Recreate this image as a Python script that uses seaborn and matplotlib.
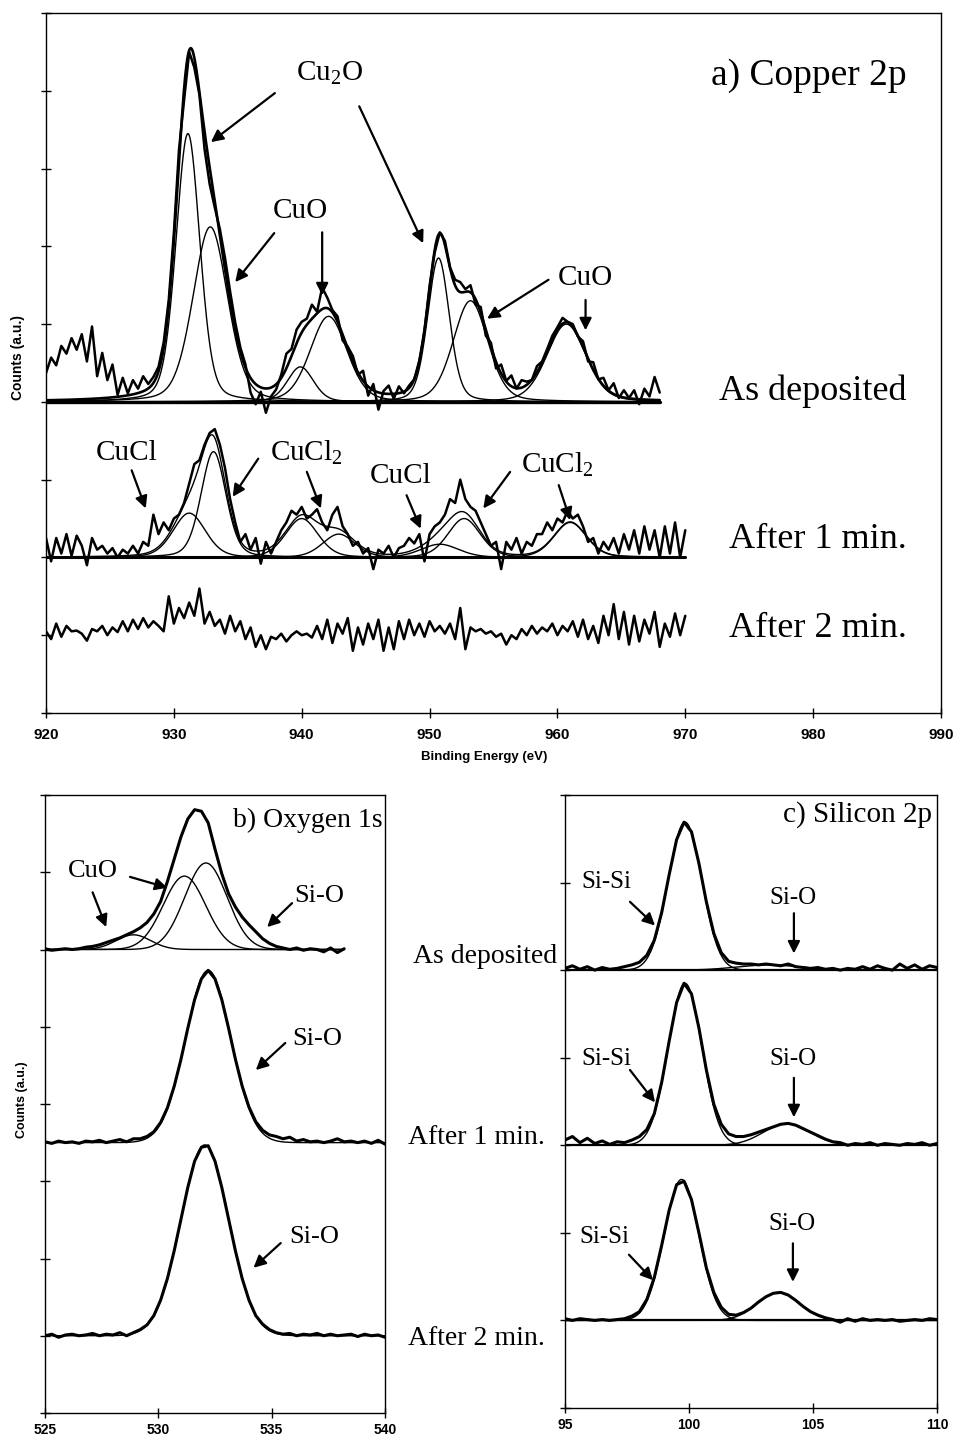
import numpy as np
import matplotlib
matplotlib.use("Agg")
import matplotlib.pyplot as plt
import seaborn as sns

# ---------------- Cu 2p spectra (counts above each trace's own baseline) ----------------
CU_START, CU_STEP = 920.0, 0.4
cu_as_deposited = [
    .37, .57, .47, .72, .62, .82, .67, .87, .52, .97,
    .33, .63, .28, .48, .09, .31, .11, .28, .17, .33,
    .23, .32, .45, .76, 1.31, 2.17, 3.24, 3.88, 4.50, 4.30,
    3.95, 3.25, 2.80, 2.50, 2.22, 1.85, 1.42, 1.02, .70, .48,
    .12, -.03, .13, -.14, .07, .16, .35, .62, .68, .93,
    1.03, 1.07, 1.25, 1.16, 1.47, 1.34, 1.18, 1.1, .79, .71,
    .59, .35, .40, .08, .23, -.1, .14, .21, .04, .2,
    .11, .21, .29, .53, .91, 1.49, 1.92, 2.18, 2.07, 1.73,
    1.57, 1.54, 1.45, 1.5, 1.25, 1.22, .85, .76, .43, .48,
    .27, .34, .17, .28, .26, .28, .46, .52, .68, .85,
    .96, 1.08, 1.03, 1.0, .84, .78, .52, .51, .29, .31,
    .15, .24, .05, .15, .05, .15, -.03, .17, .07, .32,
    .12]
cu_after_1min = [
    .25, -.05, .25, .05, .3, .02, .28, .15, -.1, .25,
    .1, .15, .05, .12, .0, .1, .05, .15, .05, .2,
    .15, .55, .3, .45, .35, .5, .55, .7, .95, 1.2,
    1.25, 1.45, 1.6, 1.65, 1.45, 1.15, .75, .45, .2, .3,
    .1, .25, -.08, .2, .05, .2, .35, .45, .6, .55,
    .65, .5, .55, .62, .45, .35, .55, .65, .4, .3,
    .15, .2, .05, .12, -.15, .1, .05, .15, .0, .12,
    .15, .25, .18, .3, -.05, .3, .4, .45, .55, .75,
    .7, 1.0, .75, .65, .6, .45, .3, .15, .2, -.15,
    .2, .1, .25, .05, .2, .15, .3, .3, .45, .35,
    .5, .45, .6, .5, .55, .4, .2, .25, .05, .2,
    .1, .25, .05, .3, .1, .35, .05, .4, .1, .35,
    .0, .4, .05, .45, .0, .35]
cu_after_2min = [
    .05, -.05, .15, -.02, .12, .05, .06, .02, -.07, .08,
    .05, .12, .0, .1, .04, .18, .05, .2, .08, .22,
    .1, .18, .12, .05, .5, .15, .35, .22, .42, .25,
    .6, .15, .3, .12, .2, .02, .25, .05, .18, -.05,
    .1, -.15, .0, -.18, -.02, -.05, .02, -.08, .0, .05,
    .0, .02, -.03, .12, -.05, .2, -.1, .15, .02, .22,
    -.2, .1, -.12, .15, -.05, .2, -.2, .1, -.18, .18,
    -.05, .2, .0, .15, -.02, .18, .05, .12, .02, .15,
    -.05, .35, -.18, .1, .05, .08, .02, .05, -.02, .02,
    -.12, .0, -.05, .08, .0, .12, .02, .1, .05, .15,
    .0, .12, .05, .18, -.02, .2, -.05, .12, -.1, .25,
    .0, .4, -.05, .3, -.12, .25, -.08, .2, .02, .3,
    -.15, .15, -.02, .28, .0, .25]

# Cu 2p curve-fit components: centre (eV), height, FWHM (eV)
cu_asdep_centre = [931.1, 932.85, 939.9, 942.1, 950.7, 953.2, 960.7]
cu_asdep_height = [3.45, 2.25, 0.45, 1.1, 1.85, 1.3, 1.0]
cu_asdep_fwhm = [2.2, 3.2, 2.4, 3.4, 2.0, 3.2, 3.6]
cu_1min_centre = [931.2, 933.1, 940.0, 942.9, 950.8, 952.7, 961.0]
cu_1min_height = [0.57, 1.36, 0.50, 0.30, 0.17, 0.50, 0.45]
cu_1min_fwhm = [3.0, 2.3, 3.0, 3.0, 3.5, 3.0, 3.0]

# ---------------- O 1s spectra ----------------
O_START, O_STEP = 525.0, 0.3
o_as_deposited = [
    .01, -.01, .0, .01, .0, .01, .03, .04, .06, .09,
    .12, .15, .19, .23, .28, .35, .46, .62, .88, 1.17,
    1.46, 1.69, 1.81, 1.79, 1.64, 1.30, .98, .72, .55, .42,
    .32, .23, .14, .08, .04, .02, .0, .02, -.01, .01,
    .0, -.03, .02, -.04, .01]
o_after_1min = [
    .01, -.01, .02, .0, .01, -.01, .02, .01, .03, .0,
    .02, .04, .01, .05, .05, .08, .14, .26, .45, .73,
    1.08, 1.48, 1.85, 2.12, 2.23, 2.12, 1.85, 1.48, 1.08, .73,
    .46, .27, .16, .10, .08, .05, .07, .02, .04, .01,
    .02, .0, .02, .05, .01, .02, .0, .02, -.01, .03,
    -.02]
o_after_2min = [
    .0, .02, -.02, .01, .02, .0, .01, .03, .0, .02,
    .01, .04, .0, .04, .08, .14, .26, .46, .74, 1.10,
    1.51, 1.92, 2.26, 2.44, 2.46, 2.26, 1.92, 1.51, 1.10, .74,
    .46, .26, .15, .08, .04, .02, .03, .0, .02, .01,
    .03, .0, .02, .0, .01, .02, -.01, .02, .0, .01,
    -.02]
o_asdep_centre = [528.9, 531.15, 532.1]
o_asdep_height = [0.19, 0.95, 1.12]
o_asdep_fwhm = [1.8, 2.2, 2.2]
o_1min_centre, o_1min_height, o_1min_fwhm = [532.2], [2.23], [2.35]
o_2min_centre, o_2min_height, o_2min_fwhm = [532.05], [2.47], [2.5]

# ---------------- Si 2p spectra ----------------
SI_START, SI_STEP = 95.0, 0.3
si_as_deposited = [
    .02, .05, .01, .04, .0, .03, .01, .02, .04, .06,
    .09, .17, .34, .66, 1.09, 1.49, 1.69, 1.58, 1.22, .78,
    .42, .20, .10, .08, .07, .07, .06, .07, .06, .05,
    .07, .04, .03, .02, .03, .01, .02, .0, .02, .01,
    .04, .01, .05, .02, .0, .07, .02, .06, .01, .05,
    .03]
si_after_1min = [
    .06, .10, .03, .08, .02, .05, .01, .04, .03, .06,
    .10, .18, .36, .72, 1.19, 1.63, 1.85, 1.73, 1.34, .86,
    .47, .24, .13, .10, .10, .12, .15, .18, .21, .24,
    .25, .23, .19, .15, .11, .07, .04, .03, .0, .02,
    .01, .03, .0, .02, .01, .0, .02, .01, .03, .0,
    .02]
si_after_2min = [
    .02, .0, .02, .01, .0, .01, .0, .01, .02, .05,
    .10, .24, .49, .86, 1.26, 1.55, 1.59, 1.38, 1.00, .60,
    .32, .15, .07, .06, .09, .14, .21, .27, .31, .32,
    .29, .23, .16, .10, .06, .03, .01, -.02, .02, -.01,
    .02, .0, .01, .0, .01, -.01, .0, .01, .0, .02,
    .01]
si_asdep_centre, si_asdep_height, si_asdep_fwhm = [99.84, 103.2], [1.69, 0.06], [1.6, 3.0]
si_1min_centre, si_1min_height, si_1min_fwhm = [99.84, 103.95], [1.85, 0.25], [1.6, 2.2]
si_2min_centre, si_2min_height, si_2min_fwhm = [99.7, 103.6], [1.61, 0.32], [1.65, 2.0]

# ---------------- styling ----------------
sns.set_theme(style="ticks")
plt.rcParams["font.family"] = ["Liberation Serif", "DejaVu Serif"]
plt.rcParams["mathtext.fontset"] = "custom"
plt.rcParams["mathtext.rm"] = "Liberation Serif"
plt.rcParams["text.color"] = "black"
plt.rcParams["xtick.color"] = "black"
plt.rcParams["ytick.color"] = "black"
plt.rcParams["xtick.labelcolor"] = "black"
plt.rcParams["axes.edgecolor"] = "black"
SANS = "Liberation Sans"

W, H = 956, 1439
fig = plt.figure(figsize=(W / 100, H / 100), dpi=100)
fig.patch.set_facecolor("white")


def px_axes(left, top, right, bottom):
    return fig.add_axes([left / W, 1 - bottom / H, (right - left) / W, (bottom - top) / H])


def line_shape(x, centre, height, fwhm, eta):
    r2 = ((x - centre) / fwhm) ** 2
    return height * ((1 - eta) * np.exp(-4 * np.log(2) * r2) + eta / (1 + 4 * r2))


def draw(ax, x, y, lw):
    sns.lineplot(x=np.asarray(x, float), y=np.asarray(y, float), ax=ax, color="black",
                 linewidth=lw, estimator=None, sort=False, legend=False)


def grid(start, step, values):
    return start + step * np.arange(len(values))


def fit_lines(ax, x0, x1, base, centres, heights, fwhms, eta, lw_comp, lw_sum=None):
    xf = np.linspace(x0, x1, 900)
    comps = [line_shape(xf, c, h, w, eta) for c, h, w in zip(centres, heights, fwhms)]
    for comp in comps:
        draw(ax, xf, base + comp, lw_comp)
    if lw_sum:
        draw(ax, xf, base + np.sum(comps, axis=0), lw_sum)


def style_axes(ax, xlim, ylim, xticks, fs, pad):
    ax.set_xlim(*xlim)
    ax.set_ylim(*ylim)
    ax.set_xticks(xticks)
    ax.set_xticklabels([str(t) for t in xticks], fontfamily=SANS, fontweight="bold",
                       fontsize=fs, color="black")
    ax.set_yticks(np.arange(ylim[0], ylim[1] + 1))
    ax.set_yticklabels([])
    ax.tick_params(direction="inout", length=7, width=1.0, color="black", pad=pad)
    for sp in ax.spines.values():
        sp.set_visible(True)
        sp.set_color("black")
        sp.set_linewidth(1.0)
    ax.set_xlabel("")
    ax.set_ylabel("")
    ax.set_facecolor("white")


ARROW = dict(arrowstyle="-|>", color="black", lw=1.6, mutation_scale=18, shrinkA=0, shrinkB=0)


def arrows(ax, pairs):
    for tail, head in pairs:
        ax.annotate("", xy=head, xytext=tail, arrowprops=ARROW)


def labels(ax, items, fs):
    for txt, x, y in items:
        ax.text(x, y, txt, ha="center", va="baseline", fontsize=fs, color="black")


# ================= a) Copper 2p =================
ax_a = px_axes(46, 13, 941, 713)
xa = grid(CU_START, CU_STEP, cu_as_deposited)
fit_lines(ax_a, 920, xa[-1], 4.0, cu_asdep_centre, cu_asdep_height, cu_asdep_fwhm, 0.25, 1.0, 1.9)
draw(ax_a, [920, xa[-1]], [4.0, 4.0], 2.4)
draw(ax_a, xa, 4.0 + np.array(cu_as_deposited), 1.8)

x1 = grid(CU_START, CU_STEP, cu_after_1min)
fit_lines(ax_a, 920, x1[-1], 2.0, cu_1min_centre, cu_1min_height, cu_1min_fwhm, 0.25, 1.0, 1.0)
draw(ax_a, [920, x1[-1]], [2.0, 2.0], 2.2)
draw(ax_a, x1, 2.0 + np.array(cu_after_1min), 1.8)

x2 = grid(CU_START, CU_STEP, cu_after_2min)
draw(ax_a, x2, 1.0 + np.array(cu_after_2min), 1.8)

style_axes(ax_a, (920, 990), (0, 9), list(range(920, 991, 10)), 11, 7)

ax_a.text(987.3, 8.07, "a) Copper 2p", ha="right", va="baseline", fontsize=27)
ax_a.text(987.3, 4.02, "As deposited", ha="right", va="baseline", fontsize=26)
ax_a.text(987.3, 2.12, "After 1 min.", ha="right", va="baseline", fontsize=26)
ax_a.text(987.3, 0.98, "After 2 min.", ha="right", va="baseline", fontsize=26)
labels(ax_a, [
    (r"Cu$_\mathregular{2}$O", 942.2, 8.14),
    ("CuO", 939.9, 6.36),
    ("CuO", 962.2, 5.50),
    ("CuCl", 926.3, 3.25),
    (r"CuCl$_\mathregular{2}$", 940.4, 3.25),
    ("CuCl", 947.7, 2.96),
    (r"CuCl$_\mathregular{2}$", 960.0, 3.10),
], 21)
arrows(ax_a, [
    ((937.9, 7.97), (932.9, 7.34)),
    ((944.5, 7.80), (949.5, 6.04)),
    ((937.85, 6.17), (934.8, 5.54)),
    ((941.6, 6.18), (941.6, 5.37)),
    ((959.3, 5.57), (954.5, 5.07)),
    ((962.2, 5.31), (962.2, 4.92)),
    ((926.7, 3.12), (927.8, 2.63)),
    ((936.6, 3.27), (934.6, 2.78)),
    ((940.4, 3.10), (941.5, 2.63)),
    ((948.2, 2.80), (949.3, 2.37)),
    ((956.3, 3.10), (954.2, 2.63)),
    ((960.1, 2.93), (961.0, 2.48)),
])

# ================= b) Oxygen 1s =================
ax_b = px_axes(45, 795, 385, 1413)
xb0 = grid(O_START, O_STEP, o_as_deposited)
fit_lines(ax_b, O_START, xb0[-1], 6.0, o_asdep_centre, o_asdep_height, o_asdep_fwhm, 0.0, 1.0)
draw(ax_b, xb0, 6.0 + np.array(o_as_deposited), 2.2)
xb1 = grid(O_START, O_STEP, o_after_1min)
fit_lines(ax_b, O_START, xb1[-1], 3.5, o_1min_centre, o_1min_height, o_1min_fwhm, 0.0, 1.0)
draw(ax_b, xb1, 3.5 + np.array(o_after_1min), 2.2)
xb2 = grid(O_START, O_STEP, o_after_2min)
fit_lines(ax_b, O_START, xb2[-1], 1.0, o_2min_centre, o_2min_height, o_2min_fwhm, 0.0, 1.0)
draw(ax_b, xb2, 1.0 + np.array(o_after_2min), 2.2)
style_axes(ax_b, (525, 540), (0, 8), [525, 530, 535, 540], 10, 4)

ax_b.text(539.9, 7.59, "b) Oxygen 1s", ha="right", va="baseline", fontsize=20)
labels(ax_b, [
    ("CuO", 527.1, 6.94),
    ("Si-O", 537.1, 6.61),
    ("Si-O", 537.0, 4.76),
    ("Si-O", 536.9, 2.20),
], 19)
arrows(ax_b, [
    ((527.1, 6.74), (527.7, 6.29)),
    ((528.75, 6.94), (530.4, 6.80)),
    ((535.9, 6.60), (534.8, 6.29)),
    ((535.6, 4.79), (534.3, 4.44)),
    ((535.4, 2.20), (534.2, 1.88)),
])

# ================= c) Silicon 2p =================
ax_c = px_axes(565, 795, 937, 1408)
for base, vals, cen, hei, fw in [
        (5.0, si_as_deposited, si_asdep_centre, si_asdep_height, si_asdep_fwhm),
        (3.0, si_after_1min, si_1min_centre, si_1min_height, si_1min_fwhm),
        (1.0, si_after_2min, si_2min_centre, si_2min_height, si_2min_fwhm)]:
    xs = grid(SI_START, SI_STEP, vals)
    draw(ax_c, [95, 110], [base, base], 1.6)
    fit_lines(ax_c, SI_START, xs[-1], base, cen, hei, fw, 0.0, 1.0)
    draw(ax_c, xs, base + np.array(vals), 2.2)
style_axes(ax_c, (95, 110), (0, 7), [95, 100, 105, 110], 10, 4)

ax_c.text(109.8, 6.70, "c) Silicon 2p", ha="right", va="baseline", fontsize=21)
labels(ax_c, [
    ("Si-Si", 96.65, 5.94),
    ("Si-O", 104.2, 5.76),
    ("Si-Si", 96.65, 3.92),
    ("Si-O", 104.2, 3.92),
    ("Si-Si", 96.57, 1.88),
    ("Si-O", 104.15, 2.03),
], 18)
arrows(ax_c, [
    ((97.62, 5.78), (98.63, 5.51)),
    ((104.23, 5.65), (104.23, 5.19)),
    ((97.62, 3.86), (98.63, 3.49)),
    ((104.23, 3.77), (104.23, 3.32)),
    ((97.58, 1.75), (98.55, 1.46)),
    ((104.19, 1.88), (104.19, 1.44)),
])

# trace names between the lower panels
fig.text(557 / W, 1 - 963 / H, "As deposited", ha="right", va="baseline", fontsize=20)
fig.text(545 / W, 1 - 1144 / H, "After 1 min.", ha="right", va="baseline", fontsize=20)
fig.text(545 / W, 1 - 1345 / H, "After 2 min.", ha="right", va="baseline", fontsize=20)

# axis titles
fig.text(18.5 / W, 1 - 357 / H, "Counts (a.u.)", rotation=90, ha="center", va="center",
         fontsize=10, fontweight="bold", family=SANS)
fig.text(22 / W, 1 - 1100 / H, "Counts (a.u.)", rotation=90, ha="center", va="center",
         fontsize=9, fontweight="bold", family=SANS)
fig.text(484 / W, 1 - 757 / H, "Binding Energy (eV)", ha="center", va="center",
         fontsize=9.5, fontweight="bold", family=SANS)

fig.savefig("out.png", dpi=100, facecolor="white")
